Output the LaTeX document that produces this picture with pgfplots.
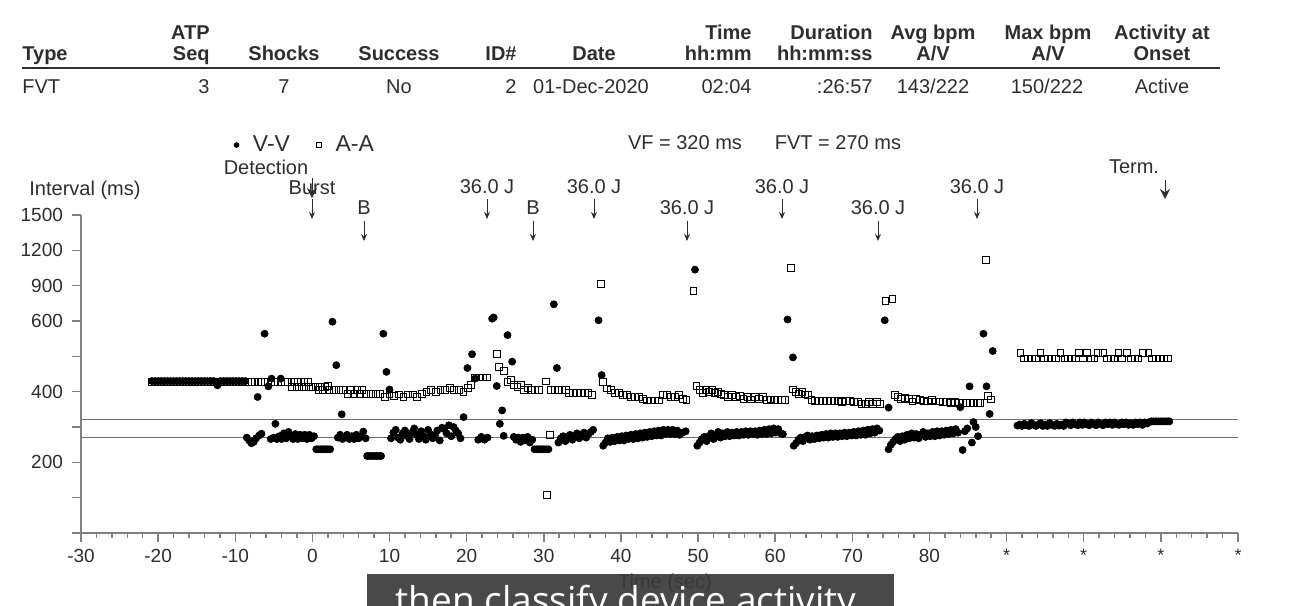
\documentclass[border=0pt]{standalone}
\usepackage{pgfplots}
\pgfplotsset{compat=1.18}
\usepackage{pgfplotstable}
\usepackage{fontspec}
\setmainfont{Liberation Sans}
\newfontfamily\capfont{Open Sans}
\usetikzlibrary{arrows.meta}

\definecolor{ink}{HTML}{2E2E2E}
\definecolor{axisgray}{HTML}{808080}
\definecolor{refgray}{HTML}{6E6E6E}
\definecolor{capbg}{HTML}{3A3A3A}

% V-V intervals: time (s) and interval (ms)
\pgfplotstableread{
t ms
-20.8 430
-20.4 430
-20.0 430
-19.6 430
-19.2 430
-18.8 430
-18.4 430
-18.0 430
-17.6 430
-17.2 430
-16.8 430
-16.4 430
-16.0 430
-15.6 430
-15.2 430
-14.8 430
-14.4 430
-14.0 430
-13.6 430
-13.2 430
-12.8 430
-12.3 418
-11.9 430
-11.5 430
-11.1 430
-10.7 430
-10.3 430
-9.9 430
-9.5 430
-9.1 430
-8.7 430
-8.5 270
-8.2 262
-7.9 254
-7.6 258
-7.3 268
-7.1 385
-6.9 276
-6.6 281
-6.2 564
-5.7 415
-5.4 266
-5.3 437
-5.0 270
-4.8 309
-4.6 266
-4.3 274
-4.1 437
-4.0 266
-3.7 282
-3.4 268
-3.1 286
-2.8 272
-2.5 266
-2.2 280
-1.9 266
-1.6 278
-1.3 268
-1.0 278
-0.7 266
-0.4 278
-0.1 268
0.2 274
0.5 237
0.8 237
1.1 237
1.4 237
1.7 237
2.0 237
2.3 237
2.6 598
3.1 475
3.3 270
3.6 278
3.8 336
3.9 266
4.2 272
4.5 278
4.8 266
5.1 274
5.4 266
5.7 278
6.0 268
6.3 274
6.6 287
6.9 268
7.1 218
7.4 218
7.7 218
8.0 218
8.3 218
8.6 218
8.9 218
9.2 564
9.6 456
10.0 406
10.2 268
10.5 284
10.8 292
11.1 270
11.4 264
11.7 282
12.0 290
12.3 274
12.6 266
12.9 284
13.2 296
13.5 278
13.8 266
14.1 288
14.4 274
14.7 264
15.0 292
15.3 280
15.6 268
15.9 276
16.2 290
16.5 262
16.8 298
17.1 294
17.4 282
17.7 305
18.0 274
18.3 300
18.6 290
18.9 282
19.2 268
19.6 328
20.1 467
20.7 506
21.1 437
21.5 264
21.9 272
22.3 264
22.7 270
23.3 620
23.5 630
23.9 416
24.3 309
24.6 347
24.8 275
25.3 560
25.9 485
26.1 272
26.4 264
26.7 270
27.0 258
27.3 270
27.6 262
27.9 272
28.2 256
28.5 264
28.8 237
29.1 237
29.4 237
29.7 237
30.0 237
30.3 237
30.6 237
31.3 742
31.7 467
31.9 256
32.2 268
32.5 274
32.8 260
33.1 272
33.4 278
33.7 264
34.0 274
34.3 282
34.6 268
34.9 278
35.2 284
35.5 270
35.8 280
36.1 286
36.4 292
37.1 606
37.5 447
37.7 247
38.0 256
38.3 268
38.6 258
38.9 270
39.2 260
39.5 272
39.8 262
40.1 274
40.4 262
40.7 276
41.0 266
41.3 278
41.6 266
41.9 280
42.2 268
42.5 282
42.8 270
43.1 284
43.4 272
43.7 286
44.0 274
44.3 288
44.6 276
44.9 290
45.2 276
45.5 292
45.8 280
46.1 292
46.4 280
46.7 292
47.0 280
47.3 290
47.6 278
48.0 284
48.4 288
49.6 1036
49.9 247
50.2 256
50.5 266
50.8 272
51.1 260
51.4 274
51.7 282
52.0 266
52.3 278
52.6 286
52.9 270
53.2 282
53.5 274
53.8 286
54.1 274
54.4 284
54.7 276
55.0 286
55.3 276
55.6 286
55.9 278
56.2 288
56.5 278
56.8 288
57.1 280
57.4 288
57.7 278
58.0 290
58.3 280
58.6 292
58.9 280
59.2 294
59.5 282
59.8 296
60.1 284
60.4 294
60.7 282
61.0 280
61.6 613
62.3 497
62.4 247
62.7 254
63.0 264
63.3 270
63.6 260
63.9 272
64.2 276
64.5 264
64.8 274
65.1 266
65.4 276
65.7 268
66.0 278
66.3 270
66.6 280
66.9 270
67.2 282
67.5 272
67.8 282
68.1 272
68.4 282
68.7 274
69.0 284
69.3 274
69.6 284
69.9 276
70.2 286
70.5 276
70.8 288
71.1 278
71.4 290
71.7 278
72.0 292
72.3 282
72.6 294
72.9 284
73.2 296
73.5 290
74.2 606
74.7 355
74.7 237
75.0 250
75.3 258
75.6 266
75.9 272
76.2 260
76.5 274
76.8 264
77.1 278
77.4 268
77.7 282
78.0 270
78.3 280
78.6 268
78.9 278
79.2 286
79.5 272
79.8 282
80.1 274
80.4 286
80.7 274
81.0 288
81.3 276
81.6 288
81.9 278
82.2 290
82.5 280
82.8 292
83.1 282
83.4 294
83.7 284
84.0 356
84.3 235
84.6 288
84.9 296
85.2 415
85.5 256
85.7 314
86.0 300
86.3 274
87.0 564
87.4 415
87.8 337
88.2 515
91.4 304
91.7 307
92.0 303
92.3 309
92.6 305
92.9 303
93.2 311
93.5 306
93.8 303
94.1 307
94.4 311
94.7 303
95.0 307
95.3 303
95.6 311
95.9 306
96.2 303
96.5 309
96.8 304
97.1 307
97.4 303
97.7 313
98.0 310
98.3 305
98.6 313
98.9 308
99.2 305
99.5 313
99.8 306
100.1 313
100.4 308
100.7 305
101.0 313
101.3 308
101.6 305
101.9 313
102.2 308
102.5 305
102.8 313
103.1 308
103.4 313
103.7 306
104.0 313
104.3 308
104.6 306
104.9 313
105.2 308
105.5 313
105.8 306
106.1 311
106.4 306
106.7 313
107.0 308
107.3 313
107.6 306
107.9 313
108.2 310
108.5 314
108.8 316
109.1 316
109.4 316
109.7 316
110.0 316
110.3 316
110.6 316
110.9 316
111.1 316
}\vvdata

% A-A intervals: time (s) and interval (ms)
\pgfplotstableread{
t ms
-20.8 428
-20.4 428
-20.0 428
-19.6 428
-19.2 428
-18.8 428
-18.4 428
-18.0 428
-17.6 428
-17.2 428
-16.8 428
-16.4 428
-16.0 428
-15.6 428
-15.2 428
-14.8 428
-14.4 428
-14.0 428
-13.6 428
-13.2 428
-12.8 428
-12.4 428
-11.9 428
-11.5 428
-11.1 428
-10.7 428
-10.3 428
-9.9 428
-9.5 428
-9.1 428
-8.7 428
-8.3 428
-7.9 428
-7.5 428
-7.0 428
-6.6 428
-6.2 428
-5.8 428
-5.3 428
-4.9 428
-4.5 428
-4.1 428
-3.6 428
-3.2 428
-2.6 414
-2.4 428
-2.0 414
-1.9 428
-1.4 414
-1.1 428
-0.8 414
-0.6 428
-0.2 414
0.4 414
0.8 404
1.0 414
1.4 404
1.6 414
2.0 416
2.2 404
2.8 404
3.4 404
4.0 404
4.6 394
5.0 404
5.4 394
5.8 404
6.2 394
6.4 404
7.0 394
7.6 394
8.2 394
8.8 394
9.4 386
10.0 392
10.6 388
11.2 392
11.8 386
12.4 392
13.0 392
13.6 386
14.2 394
14.8 398
15.4 404
16.0 398
16.6 404
17.2 404
17.8 410
18.4 404
19.0 404
19.6 400
20.2 410
20.6 418
21.1 440
21.6 440
22.1 440
22.6 440
23.9 506
24.2 470
24.8 459
25.3 428
25.7 432
26.1 420
26.6 414
27.0 418
27.4 404
27.9 410
28.4 404
28.9 404
29.4 404
30.3 429
30.4 107
30.8 277
30.9 404
31.4 404
31.9 404
32.4 404
32.9 404
33.3 397
33.8 397
34.3 397
34.8 397
35.3 397
35.8 397
36.3 390
37.4 917
37.7 428
38.2 409
38.7 404
39.2 397
39.7 397
40.3 390
40.8 390
41.3 386
41.8 386
42.3 386
42.9 380
43.4 375
43.9 375
44.4 375
44.9 375
45.5 390
46.0 390
46.5 386
47.0 386
47.5 390
48.0 380
48.5 376
49.4 852
49.8 416
50.2 404
50.6 396
51.0 404
51.4 398
51.8 404
52.2 396
52.6 398
53.0 394
53.4 390
53.9 386
54.4 390
54.9 384
55.4 388
55.9 380
56.4 384
56.9 378
57.4 384
57.9 380
58.4 384
58.9 376
59.4 378
59.9 376
60.4 376
60.9 376
61.3 376
62.0 1047
62.3 406
62.7 400
63.1 394
63.5 400
63.9 392
64.3 390
64.7 376
65.2 374
65.7 374
66.2 374
66.7 374
67.2 374
67.7 374
68.2 374
68.7 370
69.2 374
69.7 374
70.2 370
70.7 370
71.2 366
71.7 366
72.2 370
72.7 366
73.2 370
73.6 366
74.3 772
75.2 789
75.5 390
75.9 386
76.3 380
76.8 382
77.3 380
77.8 372
78.3 380
78.8 376
79.3 374
79.8 372
80.3 376
80.8 372
81.3 372
81.8 370
82.3 370
82.8 368
83.3 370
83.8 368
84.3 368
84.8 368
85.3 368
85.8 368
86.3 368
86.6 368
87.3 1119
87.6 388
88.0 378
91.8 509
92.3 494
92.8 494
93.3 494
93.8 494
94.4 509
94.9 494
95.4 494
95.9 494
96.4 494
97.0 509
97.5 494
98.0 494
98.5 494
99.0 494
99.4 509
99.9 494
100.4 509
100.9 494
101.4 494
101.9 509
102.5 509
103.0 494
103.5 494
104.0 494
104.5 509
105.0 494
105.6 509
106.1 494
106.6 494
107.1 494
107.7 509
108.4 509
108.9 494
109.4 494
109.9 494
110.4 494
110.9 494
}\aadata

\begin{document}
\begin{tikzpicture}
% page frame: 1314 x 606 units of 0.5pt
\useasboundingbox (0,0) rectangle (657pt,-303pt);

\begin{axis}[
  at={(40.5pt,-266.5pt)}, anchor=south west,
  scale only axis, width=578.5pt, height=159pt,
  xmin=-30, xmax=120, ymin=0, ymax=1500,
  % interval axis: 100 ms per step up to 600, 300 ms per step above
  y coord trafo/.code={\pgfmathparse{(#1<=600)*(#1/100)+(#1>600)*(6+(#1-600)/300)}},
  y coord inv trafo/.code={\pgfmathparse{(#1<=6)*(#1*100)+(#1>6)*(600+(#1-6)*300)}},
  axis lines=left,
  axis line style={-, draw=axisgray, line width=0.75pt},
  tick style={draw=axisgray, line width=0.75pt},
  tick align=outside,
  major tick length=4.5pt, minor tick length=2.5pt,
  xtick={-30,-20,-10,0,10,20,30,40,50,60,70,80,90,100,110,120},
  xticklabels={-30,-20,-10,0,10,20,30,40,50,60,70,80,{\small *},{\small *},{\small *},{\small *}},
  minor x tick num=4,
  ytick={0,100,200,300,400,500,600,900,1200,1500},
  yticklabels={,,200,,400,,600,900,1200,1500},
  ticklabel style={font=\fontsize{9.5}{11}\selectfont, text=ink},
  yticklabel style={xshift=-1pt},
  /pgf/number format/assume math mode=true,
  legend columns=2,
  legend style={draw=none, fill=none, at={(0.1945,1.22)}, anchor=center,
    font=\fontsize{11.5}{13}\selectfont, text=ink,
    /tikz/every odd column/.append style={column sep=5pt},
    /tikz/every even column/.append style={column sep=11pt}},
]
% detection zones
\addplot[refgray, line width=0.5pt, forget plot] coordinates {(-30,320) (120,320)};
\addplot[refgray, line width=0.5pt, forget plot] coordinates {(-30,270) (120,270)};
% atrial intervals
\addplot[only marks, mark=square, mark size=1.7pt, mark options={draw=black, line width=0.5pt, fill=white}, forget plot]
  table[x=t, y=ms] {\aadata};
% ventricular intervals
\addplot[only marks, mark=*, mark size=1.75pt, mark options={draw=black, fill=black}, forget plot]
  table[x=t, y=ms] {\vvdata};
\addlegendimage{only marks, mark=*, mark size=1.2pt, black}
\addlegendentry{V-V}
\addlegendimage{only marks, mark=square, mark size=1.4pt, black, line width=0.4pt}
\addlegendentry{A-A}
\end{axis}

\begin{scope}[x=0.5pt, y=-0.5pt, every node/.style={text=ink, inner sep=0pt, font=\fontsize{10}{12}\selectfont}]
  % episode summary
  \begin{scope}[every node/.append style={font=\fontsize{10}{12}\selectfont\bfseries}]
    \node[anchor=base west] at (22,60) {Type};
    \node[anchor=base east] at (210,39) {ATP};
    \node[anchor=base east] at (210,60) {Seq};
    \node[anchor=base] at (284,60) {Shocks};
    \node[anchor=base] at (399,60) {Success};
    \node[anchor=base east] at (517,60) {ID\#};
    \node[anchor=base] at (594,60) {Date};
    \node[anchor=base east] at (752,39) {Time};
    \node[anchor=base east] at (752,60) {hh:mm};
    \node[anchor=base east] at (873,39) {Duration};
    \node[anchor=base east] at (873,60) {hh:mm:ss};
    \node[anchor=base] at (933,39) {Avg bpm};
    \node[anchor=base] at (933,60) {A/V};
    \node[anchor=base] at (1048,39) {Max bpm};
    \node[anchor=base] at (1048,60) {A/V};
    \node[anchor=base] at (1162,39) {Activity at};
    \node[anchor=base] at (1162,60) {Onset};
  \end{scope}
  \draw[ink, line width=1.4pt] (22,68) -- (1220,68);
  \node[anchor=base west] at (22,93) {FVT};
  \node[anchor=base east] at (210,93) {3};
  \node[anchor=base] at (284,93) {7};
  \node[anchor=base] at (399,93) {No};
  \node[anchor=base east] at (517,93) {2};
  \node[anchor=base] at (591,93) {01-Dec-2020};
  \node[anchor=base east] at (752,93) {02:04};
  \node[anchor=base east] at (873,93) {:26:57};
  \node[anchor=base] at (933,93) {143/222};
  \node[anchor=base] at (1047,93) {150/222};
  \node[anchor=base] at (1162,93) {Active};

  % zone settings
  \node at (685,143) {VF = 320 ms};
  \node at (838,143) {FVT = 270 ms};

  % axis titles
  \node at (85,190) {Interval (ms)};
  \node[anchor=base] at (665,588) {Time (sec)};

  % event markers
  \node at (266,167) {Detection};
  \draw[ink, line width=0.5pt, -{Stealth[length=5pt,width=5pt]}] (312,178) -- (312,198);
  \node at (312,188) {Burst};
  \draw[ink, line width=0.5pt, -{Stealth[length=3.5pt,width=3pt]}] (312,199) -- (312,219);
  \node at (364,208) {B};
  \draw[ink, line width=0.5pt, -{Stealth[length=3.5pt,width=3pt]}] (364,221) -- (364,241);
  \node at (487,187) {36.0 J};
  \draw[ink, line width=0.5pt, -{Stealth[length=3.5pt,width=3pt]}] (487,199) -- (487,219);
  \node at (533,208) {B};
  \draw[ink, line width=0.5pt, -{Stealth[length=3.5pt,width=3pt]}] (533,221) -- (533,241);
  \node at (594,187) {36.0 J};
  \draw[ink, line width=0.5pt, -{Stealth[length=3.5pt,width=3pt]}] (594,199) -- (594,219);
  \node at (687,208) {36.0 J};
  \draw[ink, line width=0.5pt, -{Stealth[length=3.5pt,width=3pt]}] (687,221) -- (687,241);
  \node at (782,187) {36.0 J};
  \draw[ink, line width=0.5pt, -{Stealth[length=3.5pt,width=3pt]}] (782,199) -- (782,219);
  \node at (878,208) {36.0 J};
  \draw[ink, line width=0.5pt, -{Stealth[length=3.5pt,width=3pt]}] (878,221) -- (878,241);
  \node at (977,187) {36.0 J};
  \draw[ink, line width=0.5pt, -{Stealth[length=3.5pt,width=3pt]}] (977,199) -- (977,219);
  \node at (1134,167) {Term.};
  \draw[ink, line width=0.5pt, -{Stealth[length=5pt,width=5pt]}] (1165,180) -- (1165,199);

  % caption strip
  \fill[capbg, opacity=0.92] (367,574) rectangle (894,620);
  \node[anchor=base, text=white, font=\capfont\fontsize{18.5}{22}\selectfont] at (626,613) {then classify device activity};
\end{scope}
\end{tikzpicture}
\end{document}
